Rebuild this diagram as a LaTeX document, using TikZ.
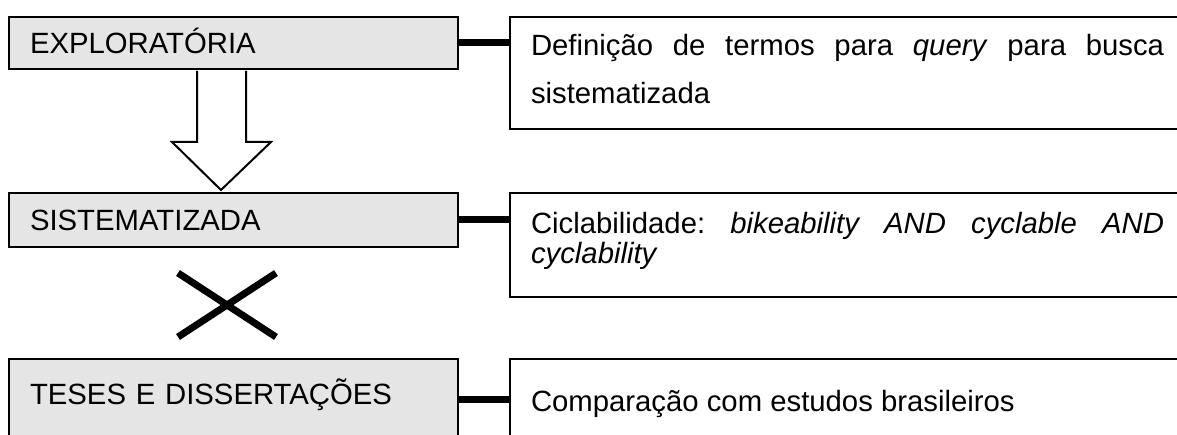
\documentclass[tikz,border=0pt]{standalone}
\usepackage{fontspec}
\setmainfont{Liberation Sans}
\usetikzlibrary{calc}
\hyphenpenalty=10000
\exhyphenpenalty=10000
\frenchspacing

\tikzset{
	etapa/.style={draw, line width=2pt, fill=black!10, anchor=north west, inner xsep=21pt, inner ysep=0pt, text width=407pt, align=left, font=\fontsize{29.3}{35}\selectfont},
	desc/.style={draw, line width=2pt, anchor=north west, inner xsep=21pt, inner ysep=0pt, text width=633pt, align=justify},
	ligacao/.style={line width=7pt},
}

\begin{document}
\begin{tikzpicture}[x=1pt, y=-1pt]
			%%%%% START %%%%%
			\useasboundingbox (0, 0) rectangle (1177, 435);
			\clip (0, 0) rectangle (1177, 435);
			
			\node[etapa, text height=37pt, text depth=15pt] (expl) at (8, 16) {EXPLORATÓRIA};
			\node[etapa, text height=38pt, text depth=16pt] (sist) at (8, 192) {SISTEMATIZADA};
			\node[etapa, text height=45pt, text depth=60pt] (tese) at (8, 358) {TESES E DISSERTAÇÕES};
			
			\node[desc, font=\fontsize{29.3}{48}\selectfont] (def) at (509, 16) {\rule{0pt}{39pt}Definição de termos para \textit{query} para busca sistematizada\rule[-25pt]{0pt}{0pt}};
			\node[desc, font=\fontsize{29.3}{30}\selectfont] (cicl) at (509, 192) {\rule{0pt}{41pt}Ciclabilidade: \textit{bikeability AND cyclable AND cyclability}\rule[-33pt]{0pt}{0pt}};
			\node[desc, font=\fontsize{29.3}{35}\selectfont, text height=52pt, text depth=60pt] (comp) at (509, 358) {Comparação com estudos brasileiros};
			
			\draw[ligacao] (expl.east) -- (expl.east -| def.west);
			\draw[ligacao] (sist.east) -- (sist.east -| cicl.west);
			\draw[ligacao] ($(tese.north east)+(0, 41)$) -- ($(comp.north west)+(0, 41)$);
			
			% seta larga
			\draw[line width=2pt, fill=white] ($(expl.south west)+(189, 1)$) -- ++(0, 71) -- ++(-25, 0) -- ($(sist.north west)+(213, -2)$) -- ($(expl.south west)+(263, 72)$) -- ++(-25, 0) -- ++(0, -71);
			
			% xis
			\coordinate (kreuz) at ($(sist.south west)!0.5!(tese.north west)+(219, 2)$);
			\draw[line width=7pt] ($(kreuz)+(-49, -32)$) -- ($(kreuz)+(49, 32)$);
			\draw[line width=7pt] ($(kreuz)+(49, -32)$) -- ($(kreuz)+(-49, 32)$);
			%%%%% END %%%%%
\end{tikzpicture}
\end{document}
